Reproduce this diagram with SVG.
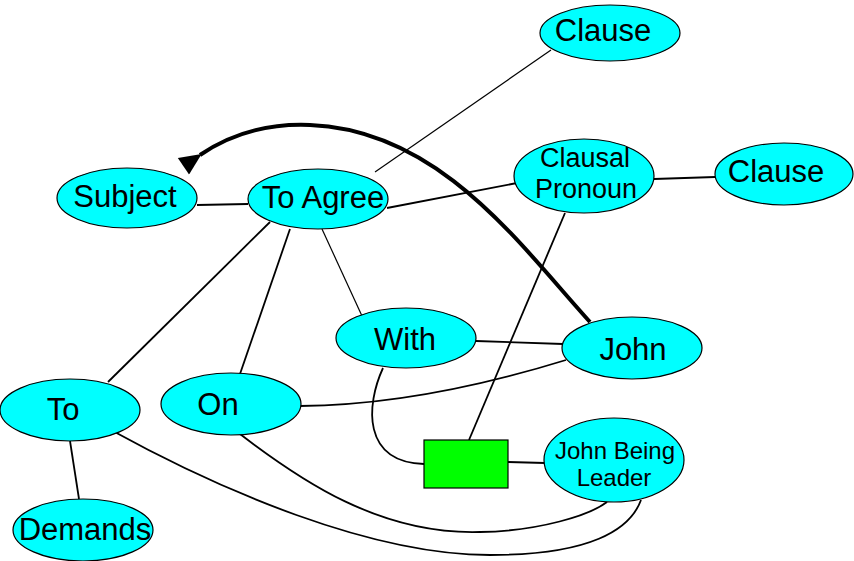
<svg xmlns="http://www.w3.org/2000/svg" width="854" height="561" viewBox="0 0 854 561">
<defs>
<style>
.n ellipse{fill:#00ffff;stroke:#000;stroke-width:1.2}
.n text{font-family:"Liberation Sans",Arial,sans-serif;font-size:31px;fill:#000;text-anchor:middle}
.n text.s{font-size:27px}
.n text.xs{font-size:24px}
.e path{fill:none;stroke:#000;stroke-width:1.8}
.e path.t{stroke-width:1.2}
.e path.k{stroke-width:4}
</style>
<marker id="ah" markerUnits="userSpaceOnUse" markerWidth="24" markerHeight="20" refX="2" refY="10" orient="auto" viewBox="0 0 24 20">
<path d="M0,10 L22,0 L22,20 Z" fill="#000"/>
</marker>
</defs>
<rect width="854" height="561" fill="#fff"/>
<g id="connectors" class="e">
<path class="t" d="M551,50 L375,172"/>
<path d="M197,205 L248,204"/>
<path d="M387,208 L517,183"/>
<path d="M654,179 L715,177"/>
<path d="M270,222 L108,382"/>
<path d="M290,229 L240,374"/>
<path class="t" d="M322,229 L362,316"/>
<path d="M476,341 L563,344"/>
<path d="M300,406 Q420,405 566,360"/>
<path d="M383,368 C366,405 362,462 424,464"/>
<path d="M508,462 L545,463"/>
<path d="M565,213 L469,440"/>
<path d="M240,434 C300,480 380,535 480,532 C540,531 590,515 607,502"/>
<path d="M111,430 C220,490 370,555 490,555 C590,555 630,530 641,500"/>
<path d="M70,441 L79,499"/>
<path class="k" d="M590,322 C520,245 440,130 310,125 C262,123 228,136 200,155" marker-end="url(#ah)"/>
</g>
<g id="clause1" class="n"><ellipse cx="610" cy="33" rx="70" ry="28"/><text x="603" y="41">Clause</text></g>
<g id="subject" class="n"><ellipse cx="127" cy="198" rx="70" ry="30"/><text x="125" y="207">Subject</text></g>
<g id="toagree" class="n"><ellipse cx="318" cy="199" rx="70" ry="30"/><text x="323" y="208">To Agree</text></g>
<g id="clausalpronoun" class="n"><ellipse cx="584" cy="176" rx="70" ry="37"/><text class="s" x="585" y="167">Clausal</text><text class="s" x="586" y="198">Pronoun</text></g>
<g id="clause2" class="n"><ellipse cx="784" cy="174" rx="69" ry="31"/><text x="776" y="182">Clause</text></g>
<g id="with" class="n"><ellipse cx="406" cy="338" rx="70" ry="30"/><text x="405" y="350">With</text></g>
<g id="john" class="n"><ellipse cx="632" cy="348" rx="70" ry="31"/><text x="633" y="360">John</text></g>
<g id="to" class="n"><ellipse cx="70" cy="410" rx="70" ry="31"/><text x="63" y="420">To</text></g>
<g id="on" class="n"><ellipse cx="231" cy="404" rx="70" ry="31"/><text x="218" y="415">On</text></g>
<g id="demands" class="n"><ellipse cx="83" cy="530" rx="70" ry="31"/><text x="85" y="540">Demands</text></g>
<g id="junction"><rect x="424" y="440" width="84" height="48" fill="#00ff00" stroke="#000" stroke-width="1.2"/></g>
<g id="johnbeingleader" class="n"><ellipse cx="614" cy="460" rx="70" ry="42"/><text class="xs" x="615" y="459">John Being</text><text class="xs" x="614" y="486">Leader</text></g>
</svg>
